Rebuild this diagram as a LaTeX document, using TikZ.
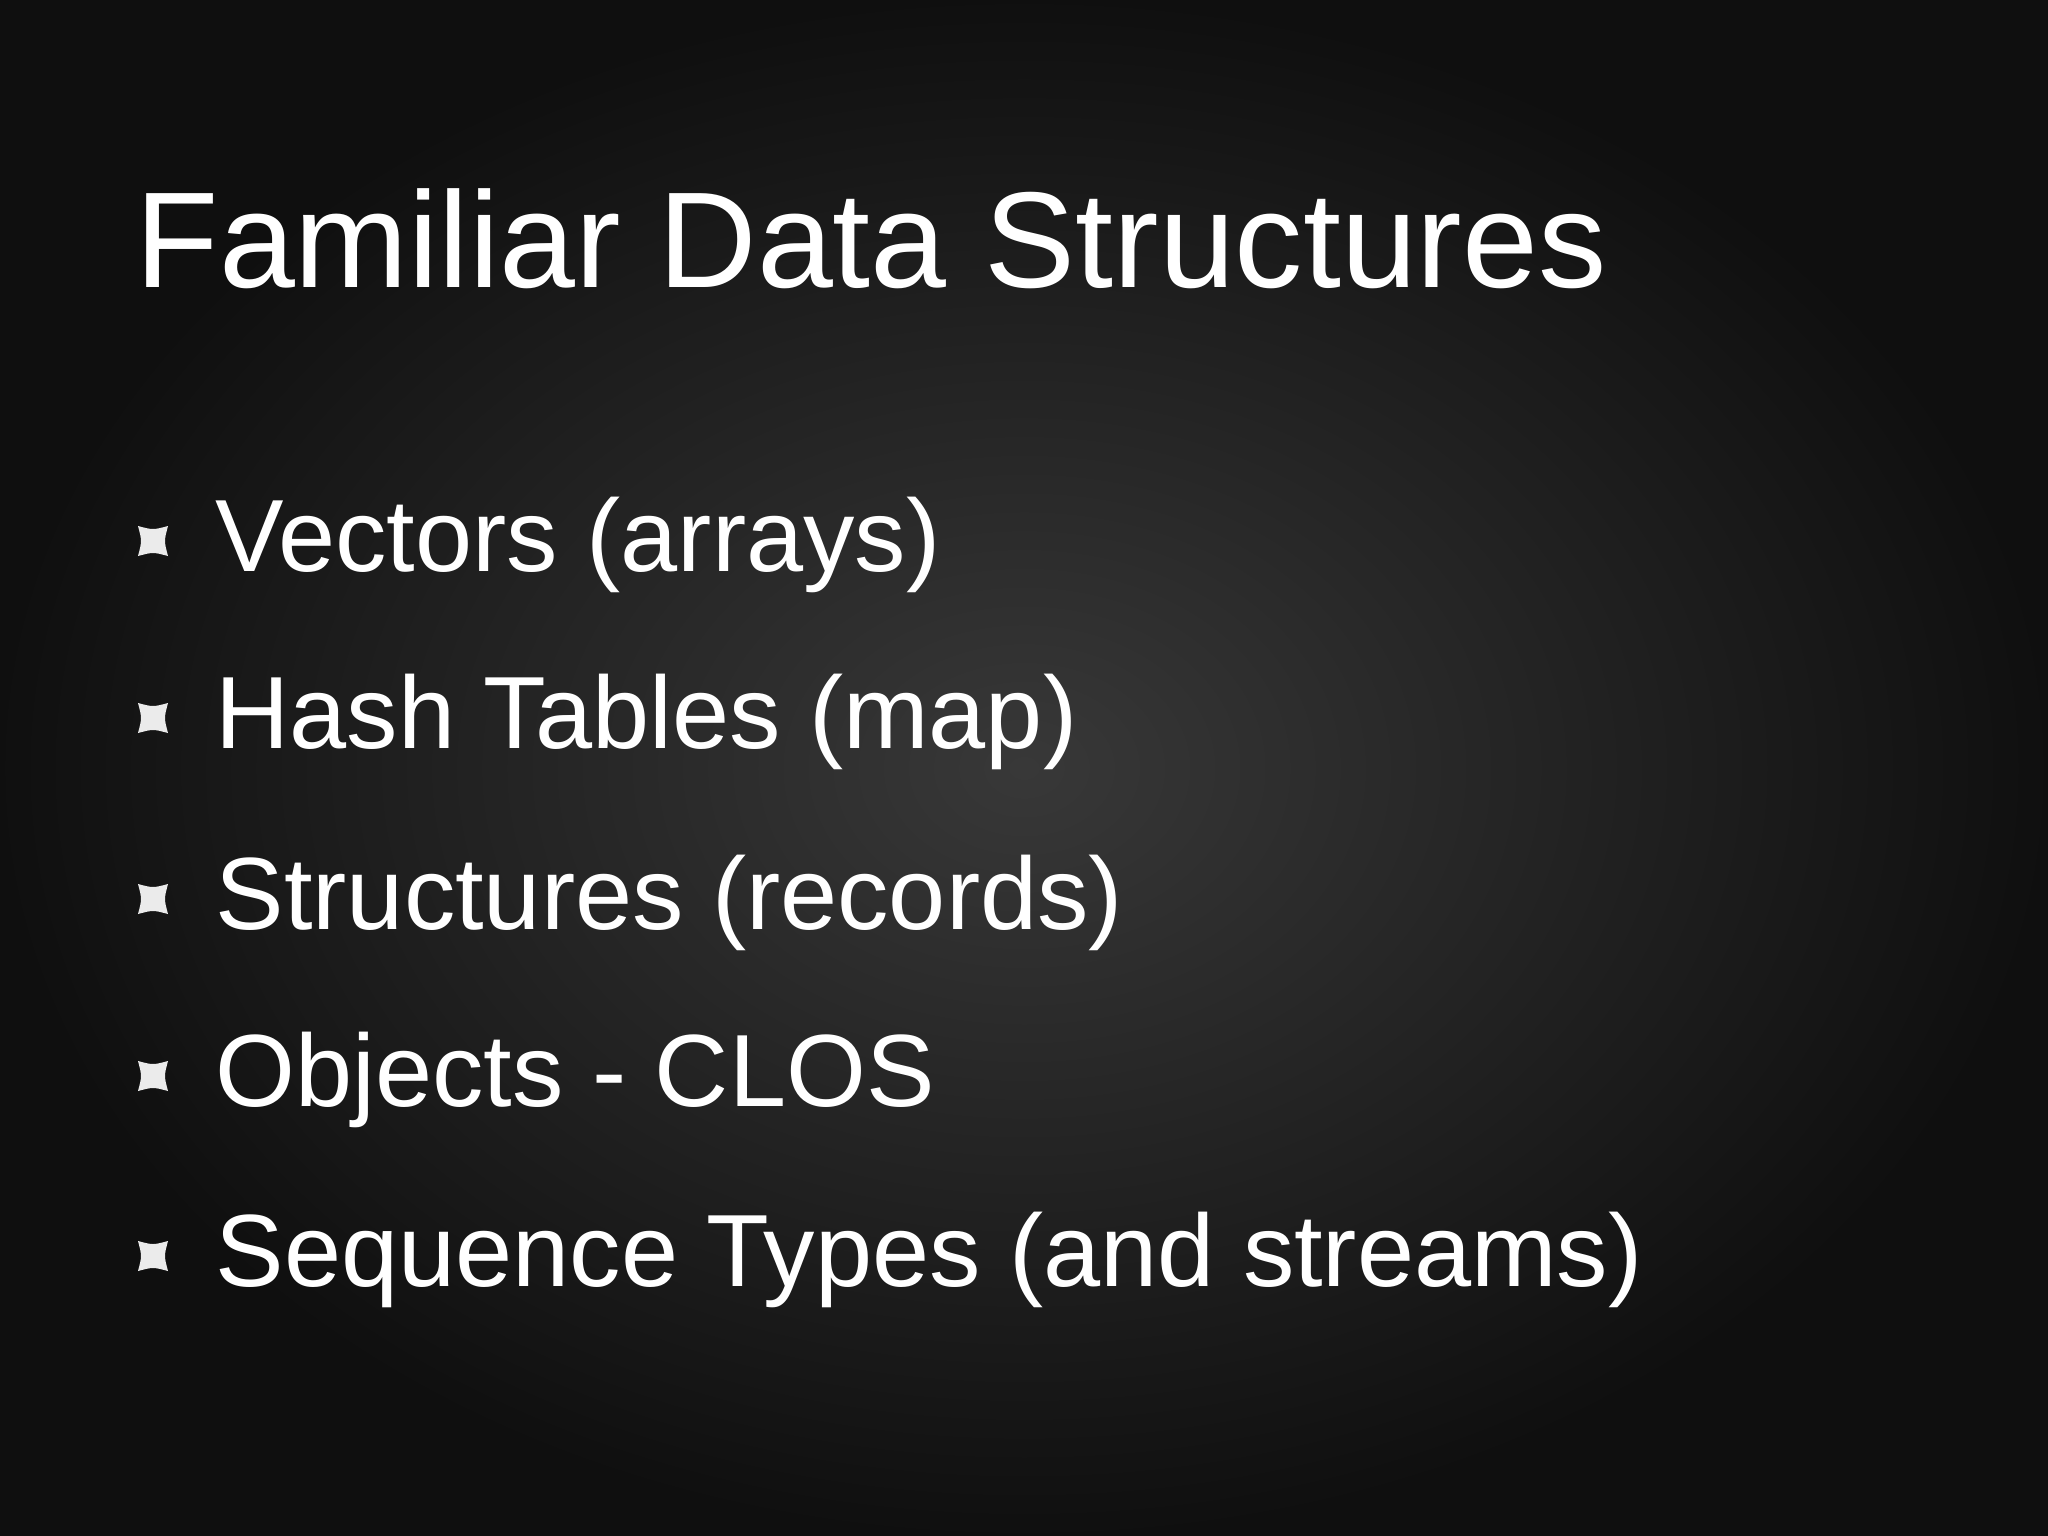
\documentclass[tikz,border=0pt]{standalone}
\usepackage{fontspec}
\setmainfont{Liberation Sans}
\begin{document}
\begin{tikzpicture}[x=0.01cm,y=-0.01cm,
  title/.style={anchor=base west,inner sep=0,text=white,font=\fontsize{38.8pt}{40pt}\selectfont},
  item/.style={anchor=base west,inner sep=0,text=white,font=\fontsize{29.2pt}{32pt}\selectfont},
  bul/.style={fill=white!92!black}]
\useasboundingbox (0,0) rectangle (2048,1536);
\fill[black] (0,0) rectangle (2048,1536);
\shade[inner color=black!78, outer color=black!94] (0,0) rectangle (2048,1536);
\node[title] (t) at (135,287) {Familiar Data Structures};
\foreach \y/\txt/\n in {571/Vectors (arrays)/a,748/Hash Tables (map)/b,929/Structures (records)/c,1106/Objects - CLOS/d,1286/Sequence Types (and streams)/e}{
  \node[item] (\n) at (215,\y) {\txt};
  \fill[bul,shift={(153,\y-30)}] (-15,-15) .. controls (0,-11) .. (15,-15) .. controls (11,0) .. (15,15) .. controls (0,11) .. (-15,15) .. controls (-11,0) .. cycle;
}
\end{tikzpicture}
\end{document}
